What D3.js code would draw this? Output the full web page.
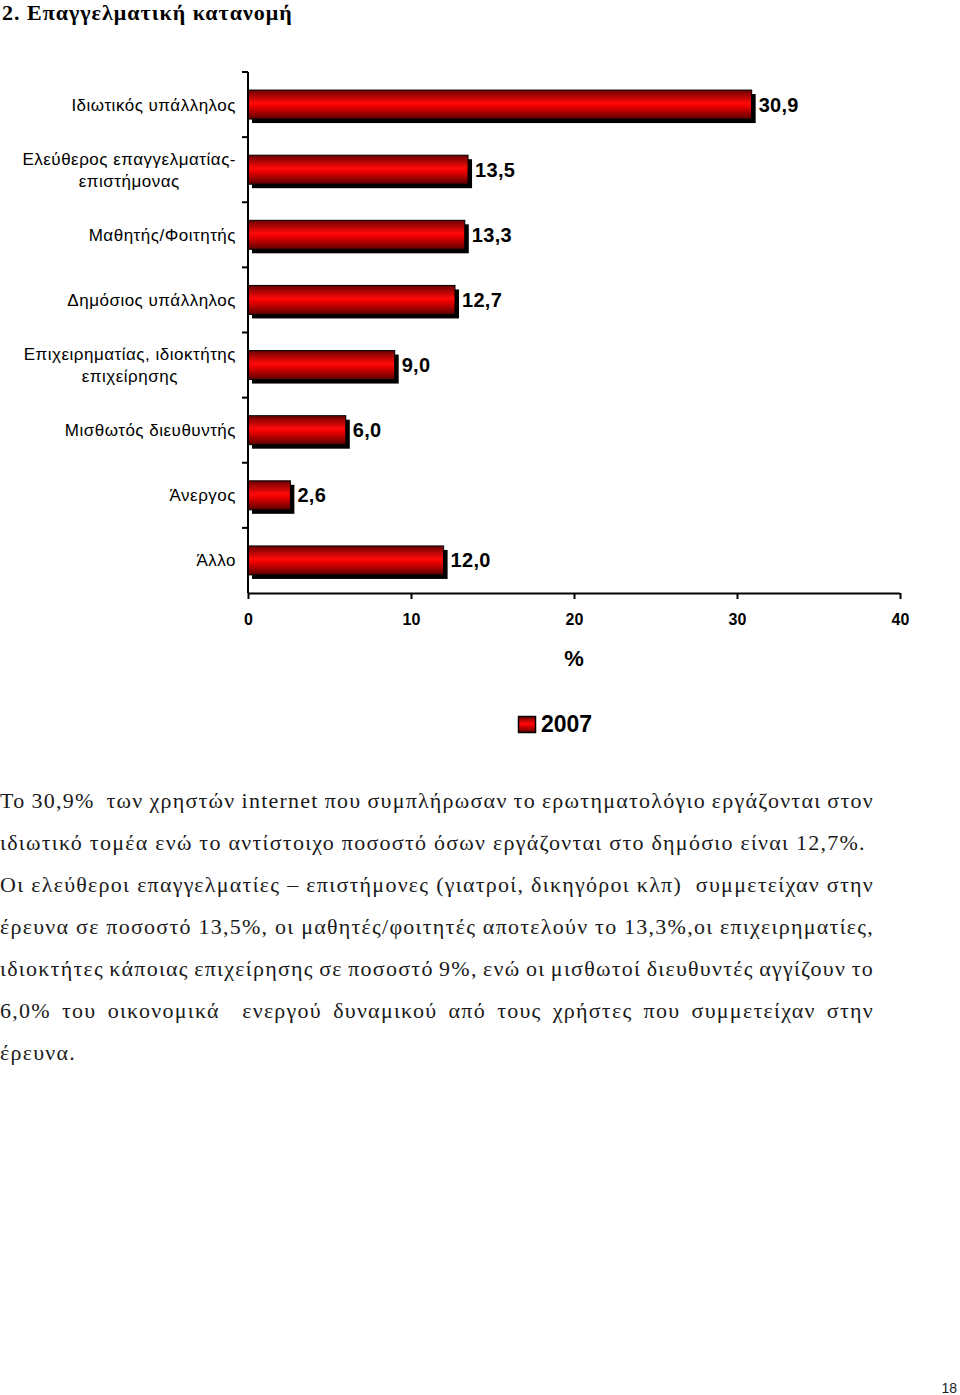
<!DOCTYPE html>
<html>
<head>
<meta charset="utf-8">
<script src="https://cdn.jsdelivr.net/npm/d3@7"></script>
<style>
  body { margin: 0; background: #fff; }
  #page { position: relative; width: 960px; height: 1395px; overflow: hidden; }
  #page svg { position: absolute; left: 0; top: 0; }
  .para { position: absolute; left: 0; font-family: "Liberation Serif", "Times New Roman", serif;
          font-size: 22px; letter-spacing: 1.25px; color: #1a1a1a; white-space: pre; line-height: 26px; }
</style>
</head>
<body>
<div id="page"></div>
<script>
const categories = [
  ["Ιδιωτικός υπάλληλος"],
  ["Ελεύθερος επαγγελματίας-", "επιστήμονας"],
  ["Μαθητής/Φοιτητής"],
  ["Δημόσιος υπάλληλος"],
  ["Επιχειρηματίας, ιδιοκτήτης", "επιχείρησης"],
  ["Μισθωτός διευθυντής"],
  ["Άνεργος"],
  ["Άλλο"]
];
const values = [30.9, 13.5, 13.3, 12.7, 9.0, 6.0, 2.6, 12.0];
const xTicks = [0, 10, 20, 30, 40];
const seriesName = "2007";

const paraLines = [
  {t: "Το 30,9%  των χρηστών internet που συμπλήρωσαν το ερωτηματολόγιο εργάζονται στον", j: true},
  {t: "ιδιωτικό τομέα ενώ το αντίστοιχο ποσοστό όσων εργάζονται στο δημόσιο είναι 12,7%.", j: false},
  {t: "Οι ελεύθεροι επαγγελματίες – επιστήμονες (γιατροί, δικηγόροι κλπ)  συμμετείχαν στην", j: true},
  {t: "έρευνα σε ποσοστό 13,5%, οι μαθητές/φοιτητές αποτελούν το 13,3%,οι επιχειρηματίες,", j: true},
  {t: "ιδιοκτήτες κάποιας επιχείρησης σε ποσοστό 9%, ενώ οι μισθωτοί διευθυντές αγγίζουν το", j: true},
  {t: "6,0% του οικονομικά  ενεργού δυναμικού από τους χρήστες που συμμετείχαν στην", j: true},
  {t: "έρευνα.", j: false}
];

const page = d3.select("#page");
const svg = page.append("svg").attr("width", 960).attr("height", 1395);

// title
svg.append("text")
  .attr("x", 2).attr("y", 20)
  .style("font-family", "'Liberation Serif', 'Times New Roman', serif")
  .style("font-weight", "bold").style("font-size", "22px").style("letter-spacing", "1px")
  .text("2. Επαγγελματική κατανομή");

const x = d3.scaleLinear().domain([0, 40]).range([248, 900]);
const y = d3.scaleBand().domain(d3.range(categories.length)).range([72, 593]).padding(0);

// gradient for bars
const defs = svg.append("defs");
const grad = defs.append("linearGradient").attr("id", "redg")
  .attr("x1", 0).attr("y1", 0).attr("x2", 0).attr("y2", 1);
grad.append("stop").attr("offset", "0%").attr("stop-color", "#6a0000");
grad.append("stop").attr("offset", "45%").attr("stop-color", "#ff0a0a");
grad.append("stop").attr("offset", "55%").attr("stop-color", "#f00000");
grad.append("stop").attr("offset", "100%").attr("stop-color", "#5a0000");

const barH = 29;
const bars = svg.append("g").selectAll("g").data(values).enter().append("g");

// shadow
bars.append("rect")
  .attr("x", x(0) + 4)
  .attr("y", (d, i) => y(i) + y.bandwidth() / 2 - barH / 2 + 4)
  .attr("width", d => x(d) - x(0))
  .attr("height", barH)
  .attr("fill", "#000");

bars.append("rect")
  .attr("x", x(0))
  .attr("y", (d, i) => y(i) + y.bandwidth() / 2 - barH / 2)
  .attr("width", d => x(d) - x(0))
  .attr("height", barH)
  .attr("fill", "url(#redg)")
  .attr("stroke", "#000").attr("stroke-width", 1);

bars.append("text")
  .attr("x", d => x(d) + 7)
  .attr("y", (d, i) => y(i) + y.bandwidth() / 2 + 7)
  .style("font-family", "'Liberation Sans', Arial, sans-serif")
  .style("font-weight", "bold").style("font-size", "20px").style("letter-spacing", "0.3px")
  .text(d => d3.format(".1f")(d).replace(".", ","));

// y axis
const yAxis = svg.append("g");
yAxis.append("line").attr("x1", 248).attr("x2", 248).attr("y1", 72).attr("y2", 593)
  .attr("stroke", "#000").attr("stroke-width", 2);
yAxis.selectAll(".yt").data(d3.range(categories.length)).enter().append("line")
  .attr("x1", 242).attr("x2", 248).attr("y1", i => y(i)).attr("y2", i => y(i))
  .attr("stroke", "#000").attr("stroke-width", 2);

// category labels
const labels = svg.append("g").selectAll("text").data(categories).enter().append("text")
  .style("font-family", "'Liberation Sans', Arial, sans-serif")
  .style("font-size", "17px").style("letter-spacing", "0.5px")
  .attr("text-anchor", "middle");
labels.each(function (lines, i) {
  const t = d3.select(this);
  const n = lines.length;
  lines.forEach((ln, k) => {
    t.append("tspan").attr("x", 0)
      .attr("y", y(i) + y.bandwidth() / 2 + 6 + (k - (n - 1) / 2) * 22).text(ln);
  });
  // right-align the block at x=236, center lines within it
  const w = this.getBBox().width;
  t.selectAll("tspan").attr("x", 236 - w / 2);
});

// x axis
const xAxis = svg.append("g").attr("transform", "translate(0,593)")
  .call(d3.axisBottom(x).tickValues(xTicks).tickSize(6).tickFormat(d3.format("d")));
xAxis.select(".domain").attr("stroke-width", 2).attr("d", "M248,0.5H900");
xAxis.selectAll(".tick line").attr("stroke-width", 2);
xAxis.selectAll(".tick text")
  .attr("y", 21)
  .style("font-family", "'Liberation Sans', Arial, sans-serif")
  .style("font-weight", "bold").style("font-size", "16px").attr("fill", "#000");

svg.append("text").attr("x", x(20)).attr("y", 666).attr("text-anchor", "middle")
  .style("font-family", "'Liberation Sans', Arial, sans-serif")
  .style("font-weight", "bold").style("font-size", "22px").text("%");

// legend
svg.append("rect").attr("x", 518.5).attr("y", 716.5).attr("width", 17).attr("height", 16)
  .attr("fill", "url(#redg)").attr("stroke", "#000").attr("stroke-width", 1.5);
svg.append("text").attr("x", 541).attr("y", 732)
  .style("font-family", "'Liberation Sans', Arial, sans-serif")
  .style("font-weight", "bold").style("font-size", "23px").text(seriesName);

// paragraph, justified line by line to 874px
const textW = 874;
page.selectAll(".para").data(paraLines).enter().append("div")
  .attr("class", "para")
  .style("top", (d, i) => (788 + i * 42) + "px")
  .text(d => d.t)
  .each(function (d) {
    if (!d.j) return;
    const w = this.getBoundingClientRect().width;
    const gaps = (d.t.match(/ /g) || []).length;
    if (gaps > 0) this.style.wordSpacing = ((textW - w) / gaps) + "px";
  });

// page number
svg.append("text").attr("x", 957).attr("y", 1393).attr("text-anchor", "end")
  .style("font-family", "'Liberation Sans', Arial, sans-serif")
  .style("font-size", "14px").attr("fill", "#222").text("18");
</script>
</body>
</html>
